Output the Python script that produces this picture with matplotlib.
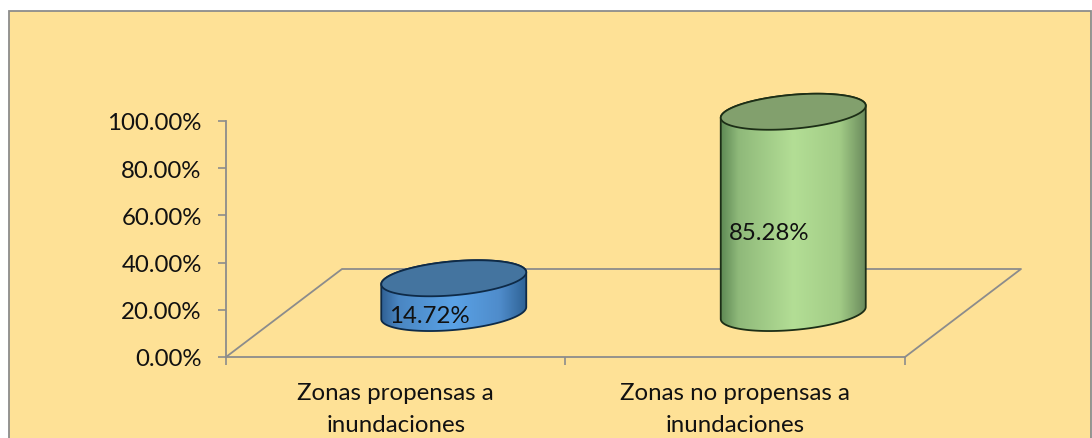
import numpy as np
import matplotlib
matplotlib.use("Agg")
import matplotlib.pyplot as plt
from matplotlib.patches import Rectangle, Polygon
from matplotlib.colors import to_rgb, LinearSegmentedColormap
from matplotlib.ticker import FuncFormatter

categories = ["Zonas propensas a\ninundaciones", "Zonas no propensas a\ninundaciones"]
values = [14.72, 85.28]
value_labels = ["14.72%", "85.28%"]
y_ticks = [0, 20, 40, 60, 80, 100]

W, H = 1092, 439
FS = 17.3
plt.rcParams['font.family'] = ['Lato', 'DejaVu Sans']
fig = plt.figure(figsize=(W / 100, H / 100), dpi=100, facecolor='white')
fig.patches.append(Rectangle((8.5 / W, -0.02), (W - 9.5) / W, 1.02 - 11.5 / H,
                             transform=fig.transFigure, fc='#FEE196', ec='#8C8C8C', lw=1.3,
                             zorder=-1))
# the view reaches above 100 % so that the tall column's top is not cut off
ax = fig.add_axes([226 / W, 1 - 358 / H, 679 / W, 283.2 / H], zorder=2)
ax.patch.set_alpha(0)
ax.set_xlim(-0.5, 1.5)
ax.set_ylim(0, 120)

px = 2 / 679      # data x per pixel
py = 100 / 236    # data y per pixel
depth_x, depth_y = 116 * px, 88 * py

for s in ('top', 'right'):
    ax.spines[s].set_visible(False)
for s in ('left', 'bottom'):
    ax.spines[s].set_color('#8C8C8C')
    ax.spines[s].set_linewidth(1.3)
ax.spines['left'].set_bounds(0, 100)
ax.set_yticks(y_ticks)
ax.yaxis.set_major_formatter(FuncFormatter(lambda v, _: f"{v:.2f}%"))
ax.set_xticks([-0.5, 0.5, 1.5])
ax.set_xticklabels([])
ax.set_xticks([0, 1], labels=categories, minor=True)
ax.tick_params(axis='x', which='major', length=6, width=1.2, color='#8C8C8C')
ax.tick_params(axis='x', which='minor', length=0, pad=18, labelsize=FS, labelcolor='#111111')
ax.tick_params(axis='y', length=5.5, width=1.2, color='#8C8C8C', labelsize=FS, pad=12, labelcolor='#111111')
for t in ax.get_xticklabels(minor=True):
    t.set_linespacing(1.62)

# floor of the 3D plot
ax.plot([-0.5, -0.5 + depth_x, 1.5 + depth_x, 1.5], [0, depth_y, depth_y, 0],
        color='#8C8C8C', lw=1.3, clip_on=False, zorder=1)

a, c, b = 72.5 * px, 6 * py, 17 * py
t = np.linspace(0, 2 * np.pi, 181)
stops = [0, 0.12, 0.5, 0.82, 1]
styles = [
    (['#2F5F92', '#4A86C2', '#5AA2E6', '#4F8CCB', '#2F6396'], '#44749F', '#0E2A47'),
    (['#5F8A55', '#8FB97A', '#B3DE95', '#A2CC86', '#6A8A5C'], '#82A06D', '#1C2E16'),
]
for i, (v, (grad, top, edge)) in enumerate(zip(values, styles)):
    cx = i + depth_x / 2
    y0 = depth_y / 2
    ex = cx + a * np.cos(t)
    ey = c * np.cos(t) + b * np.sin(t)
    # side: lower half of the bottom ellipse + upper half of the top ellipse
    tlow = np.linspace(np.pi, 2 * np.pi, 90)
    thigh = np.linspace(0, np.pi, 90)
    sx = np.r_[cx + a * np.cos(tlow), cx + a * np.cos(thigh)]
    sy = np.r_[y0 + c * np.cos(tlow) + b * np.sin(tlow),
               y0 + v + c * np.cos(thigh) + b * np.sin(thigh)]
    body = Polygon(np.c_[sx, sy], closed=True, fc='none', ec=edge, lw=1.3,
                   clip_on=False, zorder=4)
    ax.add_patch(body)
    cmap = LinearSegmentedColormap.from_list('g', list(zip(stops, [to_rgb(g) for g in grad])))
    im = ax.imshow(np.linspace(0, 1, 256)[None, :], cmap=cmap, aspect='auto',
                   extent=(cx - a, cx + a, y0 - b - c, y0 + v + b + c), zorder=3,
                   interpolation='bilinear')
    im.set_clip_path(body)
    ax.fill(ex, y0 + v + ey, fc=top, ec=edge, lw=1.3, clip_on=False, zorder=5)
    ax.text(i + 0.1, v / 2 + 10.2, value_labels[i], ha='center', va='center',
            fontsize=FS, color='#111111', zorder=6)

ax.set_xlim(-0.5, 1.5)
ax.set_ylim(0, 120)
fig.savefig('out.png', dpi=100)
